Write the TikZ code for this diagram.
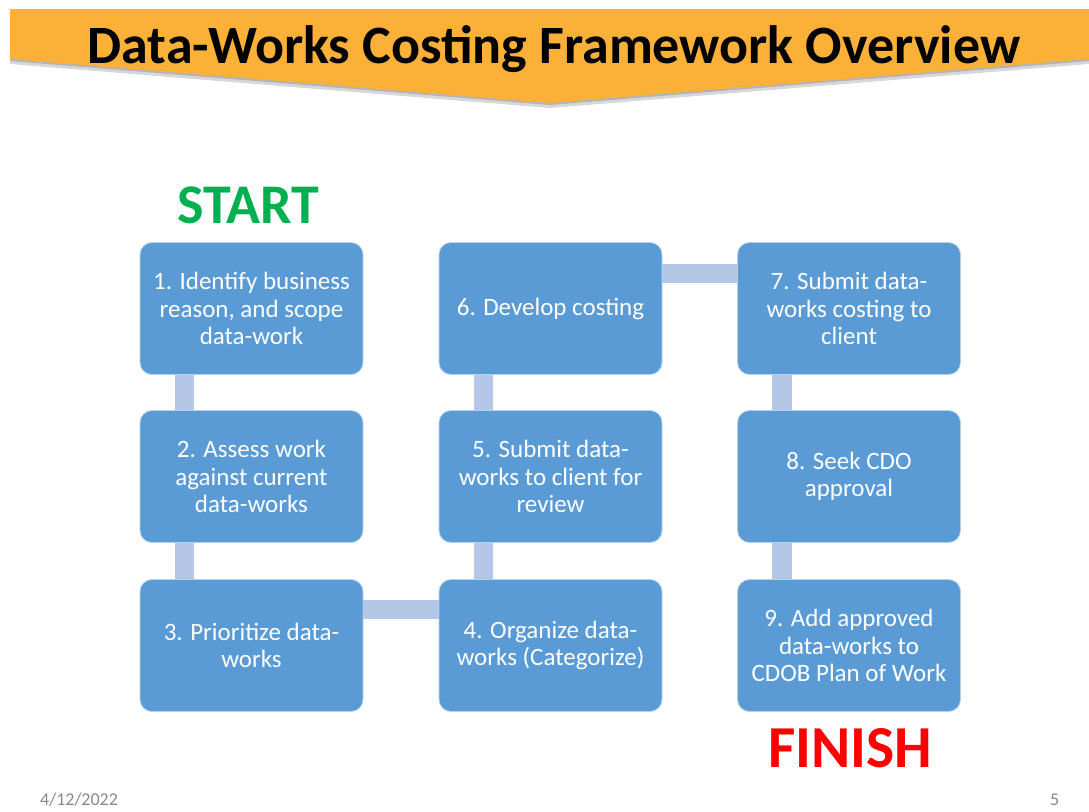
\documentclass[tikz,border=0pt]{standalone}
\usepackage{fontspec}
\setmainfont{Carlito}
\definecolor{bannerorange}{RGB}{251,176,56}
\definecolor{boxblue}{RGB}{91,155,213}
\definecolor{connblue}{RGB}{180,199,231}
\definecolor{startgreen}{RGB}{0,176,80}
\definecolor{finishred}{RGB}{255,0,0}
\definecolor{footgray}{RGB}{137,137,137}
\tikzset{
  stepbox/.style={draw=white!55!boxblue, line width=0.8pt, fill=boxblue, rounded corners=12pt,
    minimum width=223pt, minimum height=132pt, inner sep=0pt, align=center, text=white,
    font=\fontsize{25}{27.5}\selectfont},
  conn/.style={draw=connblue, line width=19.5pt, line cap=butt},
  bigword/.style={anchor=base, inner sep=0pt, font=\bfseries},
  foot/.style={anchor=base west, inner sep=0pt, text=footgray, font=\fontsize{18}{21}\selectfont}
}
\begin{document}
\begin{tikzpicture}[x=1pt,y=-1pt]
\useasboundingbox (0,0) rectangle (1089,811);
% banner shadow
\fill[black!45, opacity=0.35] (10,14) -- (1089,14) -- (1089,64) -- (550,108) -- (10,64) -- cycle;
\fill[black!60, opacity=0.3] (10,11) -- (1089,11) -- (1089,61) -- (550,105) -- (10,61) -- cycle;
% banner
\fill[bannerorange] (10,9) -- (1089,9) -- (1089,59) -- (550,103) -- (10,59) -- cycle;
\node[bigword, font=\bfseries\fontsize{54}{60}\selectfont] (title) at (554,63) {Data-Works Costing Framework Overview};
% start / finish
\node[bigword, text=startgreen, font=\bfseries\fontsize{56}{60}\selectfont] (start) at (248,223) {START};
\node[bigword, text=finishred, font=\bfseries\fontsize{59.5}{64}\selectfont] (finish) at (850,767) {FINISH};
% boxes
\node[stepbox] (b1) at (251.5,308.5) {1. Identify business\\reason, and scope\\data-work};
\node[stepbox] (b2) at (251.5,476.5) {2. Assess work\\against current\\data-works};
\node[stepbox] (b3) at (251.5,645.5) {3. Prioritize data-\\works};
\node[stepbox] (b4) at (550.5,645.5) {4. Organize data-\\works (Categorize)};
\node[stepbox] (b5) at (550.5,476.5) {5. Submit data-\\works to client for\\review};
\node[stepbox] (b6) at (550.5,308.5) {6. Develop costing};
\node[stepbox] (b7) at (849,308.5) {7. Submit data-\\works costing to\\client};
\node[stepbox] (b8) at (849,476.5) {8. Seek CDO\\approval};
\node[stepbox] (b9) at (849,645.5) {9. Add approved\\data-works to\\CDOB Plan of Work};
% connectors
\draw[conn] ([xshift=-67pt]b1.south) -- ([xshift=-67pt]b2.north);
\draw[conn] ([xshift=-67pt]b2.south) -- ([xshift=-67pt]b3.north);
\draw[conn] ([yshift=36pt]b3.east) -- ([yshift=36pt]b4.west);
\draw[conn] ([xshift=-67pt]b4.north) -- ([xshift=-67pt]b5.south);
\draw[conn] ([xshift=-67pt]b5.north) -- ([xshift=-67pt]b6.south);
\draw[conn] ([yshift=35pt]b6.east) -- ([yshift=35pt]b7.west);
\draw[conn] ([xshift=-67pt]b7.south) -- ([xshift=-67pt]b8.north);
\draw[conn] ([xshift=-67pt]b8.south) -- ([xshift=-67pt]b9.north);
% footer
\node[foot] (date) at (40,805) {4/12/2022};
\node[foot] (page) at (1050,805) {5};
\end{tikzpicture}
\end{document}
